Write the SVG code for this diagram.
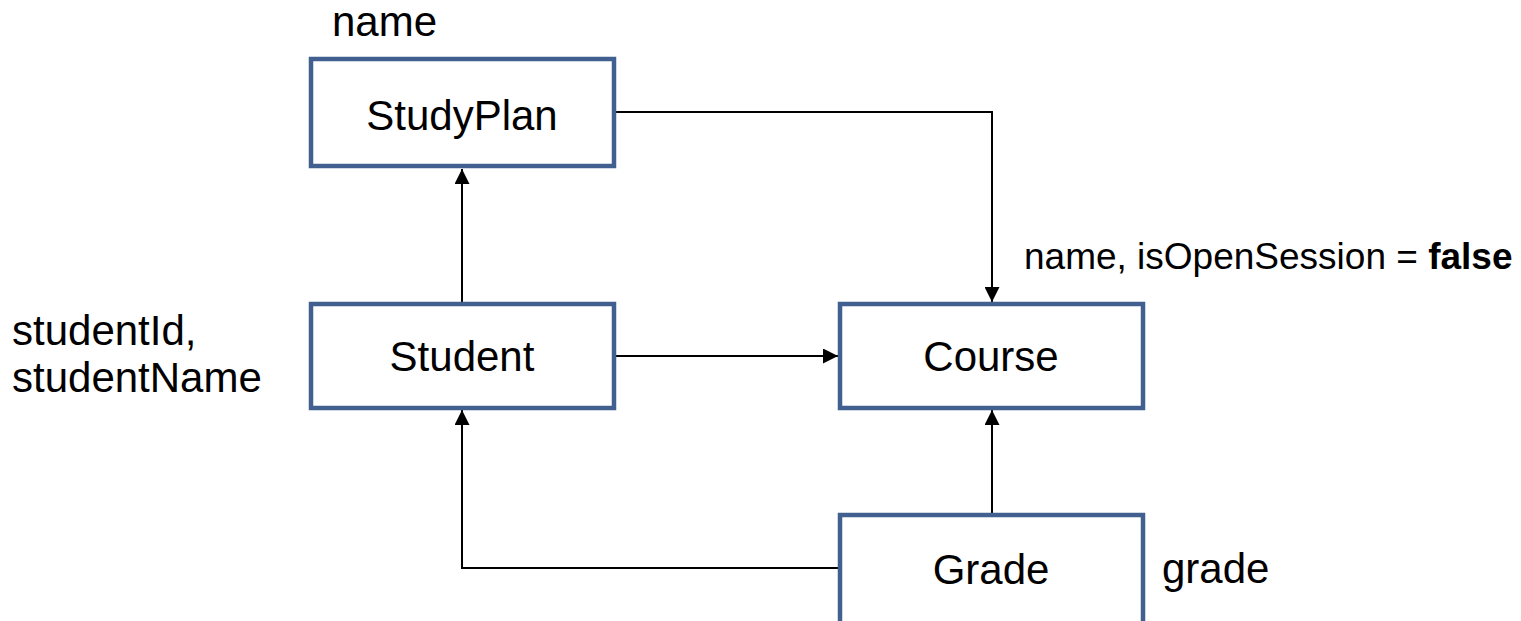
<svg xmlns="http://www.w3.org/2000/svg" width="1521" height="621" viewBox="0 0 1521 621">
  <style>
    .box { fill: #ffffff; stroke: #41608f; stroke-width: 4.5; }
    .lbl { font-family: "Liberation Sans", Arial, sans-serif; font-size: 42px; fill: #000000; }
    .lbl.small { font-size: 37px; }
    .node { font-family: "Liberation Sans", Arial, sans-serif; font-size: 42px; fill: #000000; text-anchor: middle; }
    .edge { fill: none; stroke: #000000; stroke-width: 2; }
  </style>
  <defs>
    <marker id="arrow" viewBox="0 0 10 10" refX="10" refY="5" markerWidth="15" markerHeight="15" markerUnits="userSpaceOnUse" orient="auto">
      <path d="M0,0 L10,5 L0,10 z" fill="#000000"/>
    </marker>
  </defs>

  <rect width="1521" height="621" fill="#ffffff"/>

  <g id="connectors">
    <!-- StudyPlan -> Course -->
    <polyline class="edge" points="615,112 992,112 992,302" marker-end="url(#arrow)"/>
    <!-- Student -> StudyPlan -->
    <line class="edge" x1="462" y1="304" x2="462" y2="169" marker-end="url(#arrow)"/>
    <!-- Student -> Course -->
    <line class="edge" x1="615" y1="356" x2="838" y2="356" marker-end="url(#arrow)"/>
    <!-- Grade -> Course -->
    <line class="edge" x1="992" y1="515" x2="992" y2="410" marker-end="url(#arrow)"/>
    <!-- Grade -> Student -->
    <polyline class="edge" points="840,568 462,568 462,410" marker-end="url(#arrow)"/>
  </g>

  <g id="StudyPlan">
    <rect class="box" x="311" y="59" width="303" height="107"/>
    <text class="node" x="462" y="130">StudyPlan</text>
    <text class="lbl" x="332" y="36">name</text>
  </g>

  <g id="Student">
    <rect class="box" x="311" y="304" width="303" height="104"/>
    <text class="node" x="462" y="371">Student</text>
    <text class="lbl" x="12" y="345">studentId,</text>
    <text class="lbl" x="12" y="392">studentName</text>
  </g>

  <g id="Course">
    <rect class="box" x="840" y="304" width="303" height="104"/>
    <text class="node" x="991" y="371">Course</text>
    <text class="lbl small" x="1024" y="269">name, isOpenSession = <tspan font-weight="bold">false</tspan></text>
  </g>

  <g id="Grade">
    <rect class="box" x="840" y="515" width="303" height="120"/>
    <text class="node" x="991" y="584">Grade</text>
    <text class="lbl" x="1162" y="583">grade</text>
  </g>
</svg>
